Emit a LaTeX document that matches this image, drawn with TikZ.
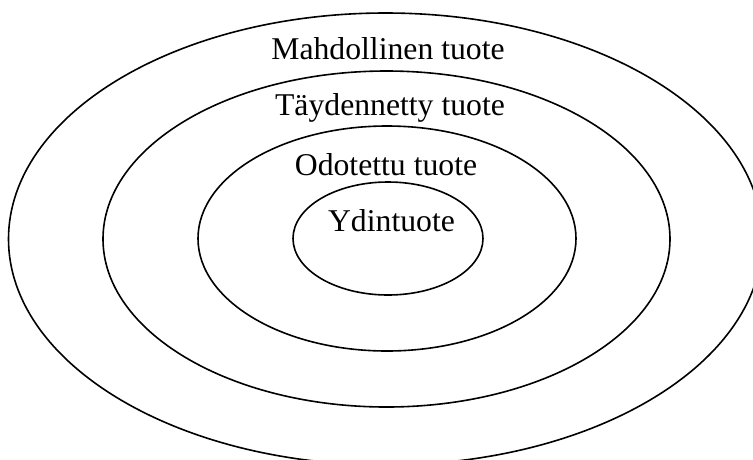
\documentclass[tikz,border=0pt]{standalone}
\usepackage{fontspec}
\setmainfont{Liberation Serif}
\begin{document}
\begin{tikzpicture}[x=1pt,y=-1pt,
  ring/.style={draw=black,line width=1.6},
  lbl/.style={anchor=base,inner sep=0pt,font=\fontsize{31.7}{38}\selectfont}]
\useasboundingbox (0,0) rectangle (753,459);
\clip (0,0) rectangle (753,459);
\fill[white] (0,0) rectangle (753,459);
\draw[ring] (385.5,239) ellipse [x radius=377,y radius=226];
\draw[ring] (386.5,239) ellipse [x radius=283.5,y radius=168];
\draw[ring] (387,238.5) ellipse [x radius=189,y radius=112.5];
\draw[ring] (388,238.5) ellipse [x radius=95,y radius=56.5];
\node[lbl] (mahd) at (388,59.3) {Mahdollinen tuote};
\node[lbl] (tayd) at (390,115) {Täydennetty tuote};
\node[lbl] (odot) at (386,175) {Odotettu tuote};
\node[lbl] (ydin) at (391.5,231.7) {Ydintuote};
\end{tikzpicture}
\end{document}
